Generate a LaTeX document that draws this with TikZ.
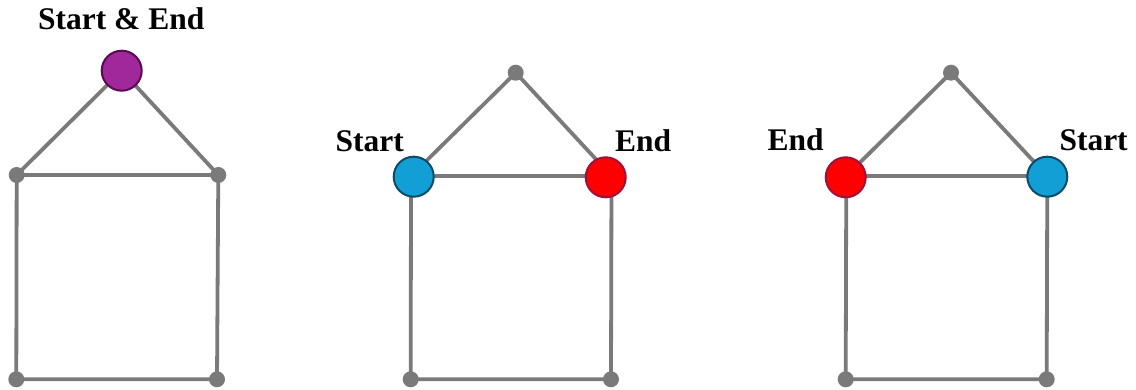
\documentclass[tikz,border=0pt]{standalone}
\usepackage{fontspec}
\setmainfont{Liberation Serif}
\definecolor{edgegray}{HTML}{7A7A7A}
\definecolor{purplefill}{HTML}{A0289A}
\definecolor{purpledraw}{HTML}{5A0A50}
\definecolor{bluefill}{HTML}{129FD6}
\definecolor{bluedraw}{HTML}{0C4A66}
\definecolor{redfill}{HTML}{FF0000}
\definecolor{reddraw}{HTML}{A0103C}
\tikzset{
  edge/.style={draw=edgegray, line width=3.8pt},
  vdot/.style={circle, fill=edgegray, inner sep=0pt, minimum size=16pt},
  bigc/.style={circle, line width=2pt, inner sep=0pt, minimum size=40pt},
  purplec/.style={bigc, fill=purplefill, draw=purpledraw},
  bluec/.style={bigc, fill=bluefill, draw=bluedraw},
  redc/.style={bigc, fill=redfill, draw=reddraw},
  lbl/.style={font=\fontsize{31.5}{35}\selectfont\bfseries, inner sep=0pt}
}
\begin{document}
\begin{tikzpicture}[x=1pt,y=-1pt]
\useasboundingbox (0,0) rectangle (1136,390);
% ---------- House 1 ----------
\coordinate (a1) at (121.7,70.7);
\coordinate (a2) at (16.7,175);
\coordinate (a3) at (218.3,175);
\coordinate (a4) at (16.3,379.3);
\coordinate (a5) at (217,379.3);
\draw[edge] (a1) -- (a2) (a1) -- (a3) (a2) -- (a3) (a2) -- (a4) (a3) -- (a5) (a4) -- (a5);
\node[vdot] (da2) at (a2) {};
\node[vdot] (da3) at (a3) {};
\node[vdot] (da4) at (a4) {};
\node[vdot] (da5) at (a5) {};
\node[purplec] (ca1) at (a1) {};
\node[lbl, anchor=base] (ta) at (121.2,29.3) {Start \& End};
% ---------- House 2 ----------
\coordinate (b1) at (515.7,72.7);
\coordinate (b2) at (411,176);
\coordinate (b3) at (611.5,176);
\coordinate (b4) at (410.7,379.3);
\coordinate (b5) at (611,379.3);
\draw[edge] (b1) -- (b2) (b1) -- (b3) (b2) -- (b3) (b2) -- (b4) (b3) -- (b5) (b4) -- (b5);
\node[vdot] (db1) at (b1) {};
\node[vdot] (db4) at (b4) {};
\node[vdot] (db5) at (b5) {};
\node[bluec] (cb2) at (413.7,176.7) {};
\node[redc] (cb3) at (605.7,177.3) {};
\node[lbl, anchor=base west] (tb1) at (335.5,151.5) {Start};
\node[lbl, anchor=base west] (tb2) at (615,151.5) {End};
% ---------- House 3 ----------
\coordinate (c1) at (951,72.7);
\coordinate (c2) at (846.3,176);
\coordinate (c3) at (1047.3,176);
\coordinate (c4) at (845.7,379.3);
\coordinate (c5) at (1046.7,379.3);
\draw[edge] (c1) -- (c2) (c1) -- (c3) (c2) -- (c3) (c2) -- (c4) (c3) -- (c5) (c4) -- (c5);
\node[vdot] (dc1) at (c1) {};
\node[vdot] (dc4) at (c4) {};
\node[vdot] (dc5) at (c5) {};
\node[redc] (cc2) at (845.7,177.3) {};
\node[bluec] (cc3) at (1047.3,176.7) {};
\node[lbl, anchor=base west] (tc1) at (767.3,151) {End};
\node[lbl, anchor=base west] (tc2) at (1059.3,151) {Start};
\end{tikzpicture}
\end{document}
